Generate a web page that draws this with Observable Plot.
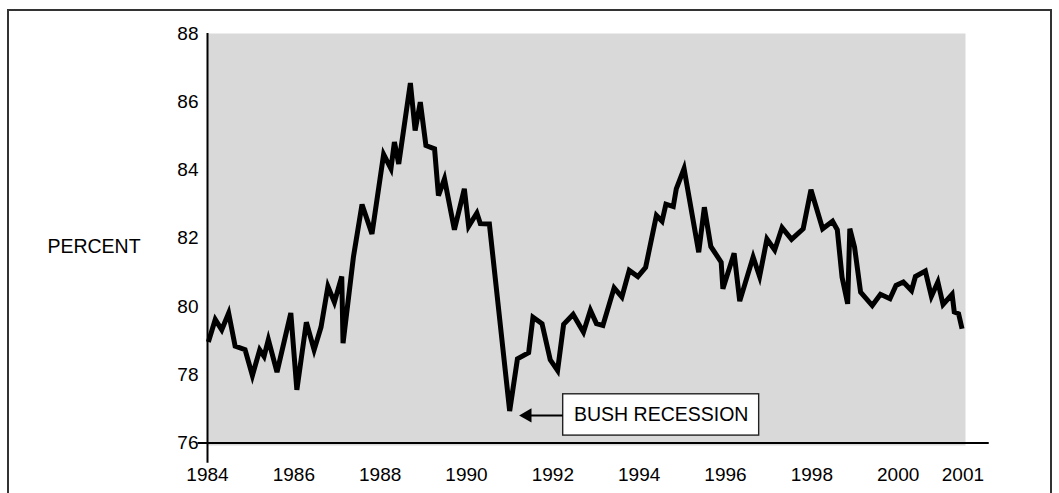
<!DOCTYPE html>
<html>
<head>
<meta charset="utf-8">
<script src="https://cdn.jsdelivr.net/npm/d3@7"></script>
<script src="https://cdn.jsdelivr.net/npm/@observablehq/plot@0.6"></script>
<style>
  html, body { margin: 0; padding: 0; background: white; overflow: hidden; }
  #chart { position: absolute; left: 0; top: 0; }
  #border { position: absolute; left: 7px; top: 9px; width: 1045px; height: 600px;
            box-sizing: border-box; border: 2px solid #333; pointer-events: none; }
</style>
</head>
<body>
<div id="chart"></div>
<div id="border"></div>
<script>
const years = [
  1984.02, 1984.18, 1984.33, 1984.49, 1984.64, 1984.87, 1985.04, 1985.21, 1985.31, 1985.41,
  1985.61, 1985.93, 1986.07, 1986.29, 1986.47, 1986.63, 1986.79, 1986.94, 1987.11, 1987.14,
  1987.38, 1987.58, 1987.81, 1988.08, 1988.25, 1988.33, 1988.43, 1988.70, 1988.81, 1988.93,
  1989.06, 1989.26, 1989.35, 1989.49, 1989.72, 1989.95, 1990.05, 1990.24, 1990.32, 1990.53,
  1991.00, 1991.18, 1991.44, 1991.54, 1991.75, 1991.94, 1992.11, 1992.25, 1992.47, 1992.71,
  1992.87, 1993.01, 1993.16, 1993.42, 1993.60, 1993.77, 1993.97, 1994.15, 1994.40, 1994.53,
  1994.62, 1994.79, 1994.86, 1995.04, 1995.38, 1995.51, 1995.66, 1995.90, 1995.94, 1996.20,
  1996.33, 1996.64, 1996.79, 1996.96, 1997.14, 1997.31, 1997.53, 1997.80, 1997.98, 1998.25,
  1998.48, 1998.59, 1998.70, 1998.83, 1998.88, 1998.99, 1999.13, 1999.40, 1999.59, 1999.81,
  1999.95, 2000.12, 2000.31, 2000.40, 2000.63, 2000.77, 2000.92, 2001.04, 2001.25, 2001.30,
  2001.40, 2001.48
];
const values = [
  78.96, 79.62, 79.32, 79.81, 78.84, 78.74, 77.98, 78.73, 78.54, 79.03,
  78.08, 79.81, 77.56, 79.54, 78.73, 79.40, 80.59, 80.13, 80.88, 78.93,
  81.45, 82.99, 82.13, 84.46, 84.04, 84.82, 84.18, 86.55, 85.16, 85.99,
  84.72, 84.62, 83.25, 83.74, 82.25, 83.45, 82.35, 82.74, 82.43, 82.42,
  76.94, 78.47, 78.65, 79.69, 79.50, 78.44, 78.13, 79.48, 79.77, 79.25,
  79.89, 79.50, 79.45, 80.55, 80.28, 81.06, 80.88, 81.15, 82.67, 82.50,
  83.00, 82.93, 83.45, 84.04, 81.59, 82.91, 81.76, 81.30, 80.52, 81.56,
  80.16, 81.45, 80.88, 81.98, 81.66, 82.31, 81.97, 82.28, 83.42, 82.28,
  82.50, 82.25, 80.86, 80.08, 82.28, 81.74, 80.42, 80.03, 80.36, 80.23,
  80.62, 80.72, 80.47, 80.88, 81.04, 80.30, 80.72, 80.06, 80.36, 79.84,
  79.79, 79.35
];
const xTickValues = [1984, 1986, 1988, 1990, 1992, 1994, 1996, 1998, 2000, 2001.5];
const xTickLabels = ["1984", "1986", "1988", "1990", "1992", "1994", "1996", "1998", "2000", "2001"];
const yTickValues = [76, 78, 80, 82, 84, 86, 88];
const yAxisTitle = "PERCENT";
const annotationText = "BUSH RECESSION";
const annotationBox = [{x1: 1992.24, x2: 1996.78, y1: 76.22, y2: 77.43}];
const annotationArrow = [{x1: 1991.41, x2: 1992.24, y: 76.81}];
const arrowHead = [{x: 1991.41, y: 76.81}];

const data = years.map((t, i) => ({t, v: values[i]}));
const font = "'Liberation Sans', Arial, Helvetica, sans-serif";

const chart = Plot.plot({
  width: 1059,
  height: 493,
  marginLeft: 207,
  marginRight: 94,
  marginTop: 33,
  marginBottom: 48,
  style: {fontFamily: font, fontSize: "19px", color: "black", background: "transparent"},
  x: {
    domain: [1984, 2001.56],
    ticks: xTickValues,
    tickFormat: d => xTickLabels[xTickValues.indexOf(d)],
    tickSize: 0,
    tickPadding: 22,
    label: null
  },
  y: {
    domain: [75.93, 88],
    ticks: yTickValues,
    tickSize: 0,
    tickPadding: 9,
    label: null
  },
  marks: [
    Plot.frame({fill: "#d9d9d9", stroke: null}),
    Plot.ruleY([76], {x1: 1983.78, x2: 2002.11, stroke: "black", strokeWidth: 2}),
    Plot.ruleX([1984], {y1: 75.41, y2: 88, stroke: "black", strokeWidth: 2}),
    Plot.line(data, {x: "t", y: "v", stroke: "black", strokeWidth: 5,
                     strokeLinejoin: "miter", strokeMiterlimit: 4, strokeLinecap: "butt"}),
    Plot.rect(annotationBox, {x1: "x1", x2: "x2", y1: "y1", y2: "y2",
                              fill: "white", stroke: "#222", strokeWidth: 1.4}),
    Plot.text(annotationBox, {x: d => (d.x1 + d.x2) / 2, y: d => (d.y1 + d.y2) / 2,
                              text: () => annotationText, fontSize: 19.5, fill: "black",
                              textAnchor: "middle"}),
    Plot.ruleY(annotationArrow, {x1: "x1", x2: "x2", y: "y", stroke: "black", strokeWidth: 2}),
    Plot.dot(arrowHead, {x: "x", y: "y", symbol: "triangle", rotate: -90, r: 5.3,
                         fill: "black", stroke: null}),
    Plot.text([yAxisTitle], {frameAnchor: "left", y: () => 81.76, text: d => d,
                             dx: -113.5, textAnchor: "middle", fontSize: 19.5, fill: "black"})
  ]
});
document.getElementById("chart").appendChild(chart);
</script>
</body>
</html>
